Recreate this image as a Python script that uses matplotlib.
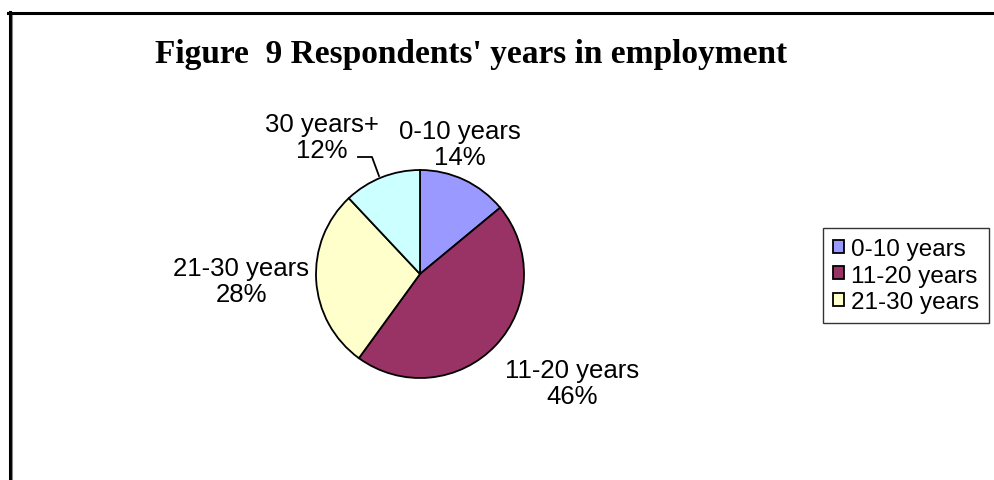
import matplotlib
matplotlib.use("Agg")
import matplotlib.pyplot as plt
from matplotlib.lines import Line2D

# data
categories = ["0-10 years", "11-20 years", "21-30 years", "30 years+"]
shares = [14, 46, 28, 12]
colors = ["#9999FF", "#993366", "#FFFFCC", "#CCFFFF"]
legend_entries = ["0-10 years", "11-20 years", "21-30 years"]
title = "Figure  9 Respondents' years in employment"

W, H = 994, 481
fig = plt.figure(figsize=(W / 100, H / 100), dpi=100)
fig.patch.set_facecolor("white")

# full-figure axes working in pixel units (y measured downward from the top)
ax = fig.add_axes([0, 0, 1, 1])


def py(y):
    return H - y


cx, cy, r = 420, 275, 104
wedges, _ = ax.pie(
    shares,
    colors=colors,
    startangle=90,
    counterclock=False,
    center=(cx, py(cy)),
    radius=r,
    wedgeprops=dict(edgecolor="black", linewidth=1.3),
    frame=True,
)
ax.set_xlim(0, W)
ax.set_ylim(0, H)
ax.set_aspect("equal")
ax.axis("off")

label_font = dict(family="Liberation Sans", fontsize=18.5, color="black")
label_pos = [(460, 145), (572, 384), (241, 282), (322, 138)]
for cat, val, (lx, ly) in zip(categories, shares, label_pos):
    ax.text(lx, py(ly), f"{cat}\n{val}%", ha="center", va="center",
            linespacing=1.15, **label_font)

# leader line for the small "30 years+" label
ax.plot([358, 372, 379], [py(158), py(158), py(177)], color="black", lw=1.3)

ax.text(471, py(54), title, ha="center", va="center",
        family="Liberation Serif", fontweight="bold", fontsize=24)

leg = ax.legend(
    wedges[:3], legend_entries,
    loc="upper left",
    bbox_to_anchor=(823 / W, 1 - 229 / H),
    bbox_transform=fig.transFigure,
    prop=dict(family="Liberation Sans", size=17.5),
    frameon=True, fancybox=False, shadow=False,
    handlelength=0.45, handleheight=0.45, handletextpad=0.3,
    labelspacing=0.2, borderpad=0.4, borderaxespad=0,
)
leg.get_frame().set_edgecolor("black")
leg.get_frame().set_linewidth(1.0)

# chart frame: left and top border
fig.add_artist(Line2D([9.5 / W, 9.5 / W], [0, 1 - 13 / H], color="black", lw=2.2,
                      transform=fig.transFigure))
fig.add_artist(Line2D([11.5 / W, 11.5 / W], [0, 1 - 15 / H], color="#888888", lw=0.8,
                      transform=fig.transFigure))
fig.add_artist(Line2D([8 / W, 1], [1 - 14 / H, 1 - 14 / H], color="black", lw=2.2,
                      transform=fig.transFigure))

fig.savefig("out.png", dpi=100)
